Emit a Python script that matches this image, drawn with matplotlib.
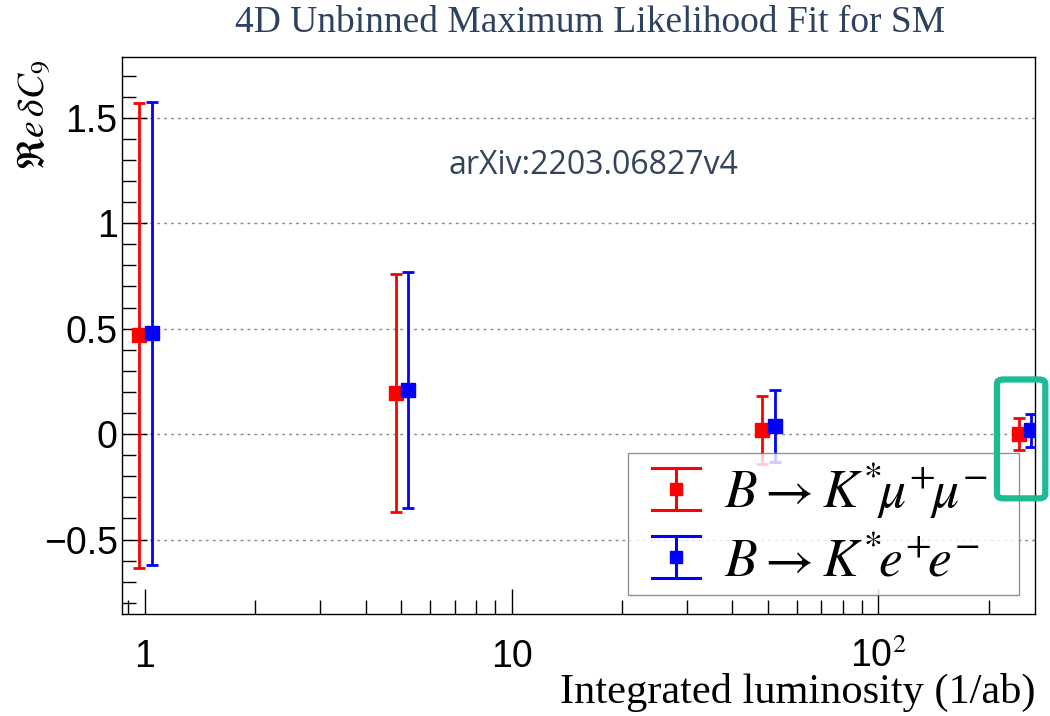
import matplotlib
matplotlib.use("Agg")
import matplotlib.pyplot as plt
import matplotlib.ticker as ticker
from matplotlib.patches import FancyBboxPatch
from matplotlib.lines import Line2D
from matplotlib.legend_handler import HandlerBase

# integrated luminosity points (1/ab)
lumi = [1, 5, 50, 250]

# B -> K* mu mu
mumu_val = [0.47, 0.195, 0.02, 0.0]
mumu_up = [1.10, 0.564, 0.16, 0.076]
mumu_dn = [1.104, 0.564, 0.16, 0.076]

# B -> K* e e
ee_val = [0.48, 0.21, 0.04, 0.02]
ee_up = [1.094, 0.558, 0.17, 0.076]
ee_dn = [1.10, 0.56, 0.17, 0.079]

ytick_vals = [-0.5, 0, 0.5, 1, 1.5]
ytick_labels = ["\u22120.5", "0", "0.5", "1", "1.5"]
xtick_vals = [1, 10, 100]
xtick_labels = ["1", "10", "10$^2$"]

plt.rcParams["mathtext.fontset"] = "stix"


# ROOT-like legend entry: wide caps, square marker in the middle
class CapHandler(HandlerBase):
    def create_artists(self, legend, orig_handle, xdescent, ydescent,
                       width, height, fontsize, trans):
        col = orig_handle[0].get_color()
        capw = 0.9 * fontsize
        x1 = width - xdescent
        x0 = x1 - capw
        cx = (x0 + x1) / 2
        cy = height / 2 - ydescent
        h = height * 0.56
        kw = dict(color=col, lw=2.2, transform=trans)
        vline = Line2D([cx, cx], [cy - h, cy + h], **kw)
        top = Line2D([x0, x1], [cy + h, cy + h], **kw)
        bot = Line2D([x0, x1], [cy - h, cy - h], **kw)
        mk = Line2D([cx], [cy], marker="s", ms=8.5, color=col, lw=0,
                    transform=trans)
        return [vline, top, bot, mk]


fig = plt.figure(figsize=(10.5, 7.16), dpi=100)
ax = fig.add_axes([0.116, 0.1425, 0.870, 0.7775])

shift = 0.035  # small horizontal offset so the two series don't overlap
x_mu = [l * (1 - shift) for l in lumi]
x_e = [l * (1 + shift + 0.01) for l in lumi]

eb1 = ax.errorbar(x_mu, mumu_val, yerr=[mumu_dn, mumu_up], fmt="s", color="#ff0000",
                  ms=10, elinewidth=2, capsize=4, capthick=2, zorder=3,
                  label=r"$B \rightarrow K^{*}\!\mu^{+}\!\mu^{-}$")
eb2 = ax.errorbar(x_e, ee_val, yerr=[ee_dn, ee_up], fmt="s", color="#0000ff",
                  ms=10, elinewidth=2, capsize=4, capthick=2, zorder=3,
                  label=r"$B \rightarrow K^{*}\!e^{+}\!e^{-}$")

ax.set_xscale("log")
ax.set_xlim(0.865, 268)
ax.set_ylim(-0.853, 1.787)

ax.yaxis.set_major_locator(ticker.FixedLocator(ytick_vals))
ax.yaxis.set_major_formatter(ticker.FixedFormatter(ytick_labels))
ax.yaxis.set_minor_locator(ticker.MultipleLocator(0.1))
ax.xaxis.set_major_locator(ticker.FixedLocator(xtick_vals))
ax.xaxis.set_major_formatter(ticker.FixedFormatter(xtick_labels))
ax.xaxis.set_minor_locator(ticker.LogLocator(base=10, subs=range(2, 10)))
ax.xaxis.set_minor_formatter(ticker.NullFormatter())

ax.tick_params(axis="both", which="both", direction="in", top=False, right=False)
ax.tick_params(axis="y", which="major", length=18, width=1, labelsize=27, pad=3)
ax.tick_params(axis="y", which="minor", length=10, width=1)
ax.tick_params(axis="x", which="major", length=18, width=1, labelsize=27, pad=18)
ax.tick_params(axis="x", which="minor", length=10, width=1)
for lab in ax.get_xticklabels() + ax.get_yticklabels():
    lab.set_fontfamily("Liberation Sans")

ax.grid(axis="y", which="major", linestyle=(0, (2, 3)), color="#888888", linewidth=1)
for s in ax.spines.values():
    s.set_linewidth(1)

ax.set_xlabel("Integrated luminosity (1/ab)", family="Liberation Serif", fontsize=30.5,
              loc="right", labelpad=-2)
ax.set_ylabel(r"$\Re e\,\delta C_9$", fontsize=27, loc="top")
ax.yaxis.set_label_coords(-0.075, 0.995)

leg = ax.legend(handles=[eb1, eb2], handler_map={type(eb1): CapHandler()},
                loc="lower left", bbox_to_anchor=(0.554, 0.034, 0.428, 0.242),
                mode="expand", fontsize=38.5, frameon=True, fancybox=False,
                borderpad=0.15, labelspacing=0.26, handlelength=1.2,
                handleheight=0.7, handletextpad=0.45, borderaxespad=0)
leg.get_frame().set_edgecolor("#777777")
leg.get_frame().set_linewidth(1)

fig.text(0.562, 0.968, "4D Unbinned Maximum Likelihood Fit for SM",
         family="Liberation Serif", fontsize=27, color="#2e4260",
         ha="center", va="center")
ax.text(0.516, 0.806, "arXiv:2203.06827v4", transform=ax.transAxes,
        family="Open Sans", fontsize=23, color="#33435a", ha="center", va="center")

# teal highlight around the last point
box = FancyBboxPatch((0.9495, 0.304), 0.046, 0.166, transform=fig.transFigure,
                     boxstyle="round,pad=0,rounding_size=0.006",
                     fill=False, edgecolor="#1dba96", linewidth=4.5, zorder=10)
fig.patches.append(box)

fig.savefig("out.png", dpi=100)
